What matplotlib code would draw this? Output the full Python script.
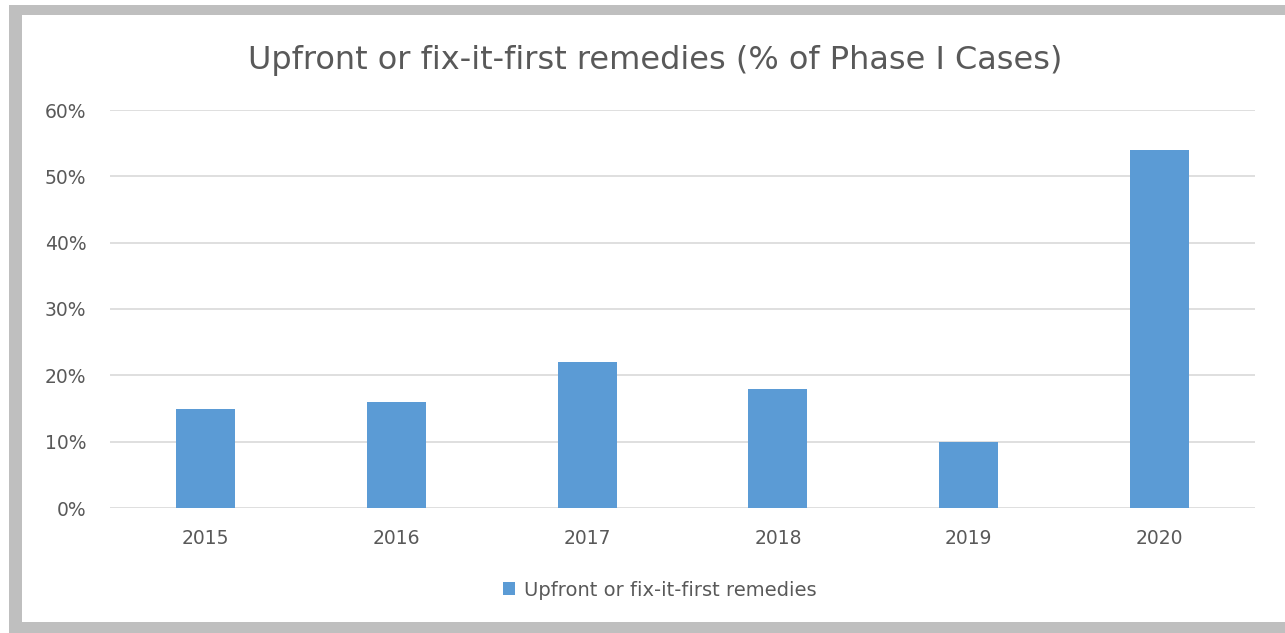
import matplotlib
matplotlib.use("Agg")
import matplotlib.pyplot as plt
from matplotlib.patches import Rectangle

years = ["2015", "2016", "2017", "2018", "2019", "2020"]
values = [15, 16, 22, 18, 10, 54]
yticks = [0, 10, 20, 30, 40, 50, 60]
series_name = "Upfront or fix-it-first remedies"
title = "Upfront or fix-it-first remedies (% of Phase I Cases)"

W, H = 1285, 633
fig = plt.figure(figsize=(W / 100, H / 100), dpi=100)
fig.patch.set_facecolor("white")
plt.rcParams['font.family'] = ['DejaVu Sans']

# gray frame
fig.patches.append(Rectangle((9 / W, 0), 1, (H - 5) / H, transform=fig.transFigure,
                             facecolor="#BFBFBF", edgecolor="none", zorder=-10))
fig.patches.append(Rectangle((22 / W, 11 / H), 1, (622 - 15) / H, transform=fig.transFigure,
                             facecolor="white", edgecolor="none", zorder=-9))

ax = fig.add_axes([110 / W, (H - 508) / H, 1145 / W, 398 / H])
ax.set_facecolor("none")
x = list(range(len(years)))
ax.bar(x, values, width=0.31, color="#5B9BD5", label=series_name, zorder=3)
ax.set_xlim(-0.5, len(years) - 0.5)
ax.set_ylim(0, 60)
ax.set_yticks(yticks)
ax.set_yticklabels([f"{v}%" for v in yticks])
ax.set_xticks(x)
ax.set_xticklabels(years)
ax.grid(axis="y", color="#D9D9D9", linewidth=1.2, zorder=0)
for s in ax.spines.values():
    s.set_visible(False)
ax.tick_params(axis="both", length=0, colors="#595959", labelsize=13.5)
ax.tick_params(axis="y", pad=17)
ax.tick_params(axis="x", pad=15)

fig.text(655 / W, 1 - 60 / H, title, ha="center", va="center", fontsize=23, color="#595959")

fig.legend(loc="center", bbox_to_anchor=(660 / W, 1 - 590 / H), frameon=False,
           fontsize=14, labelcolor="#595959", handlelength=0.6, handleheight=0.6,
           handletextpad=0.5)

fig.savefig("out.png", dpi=100)
